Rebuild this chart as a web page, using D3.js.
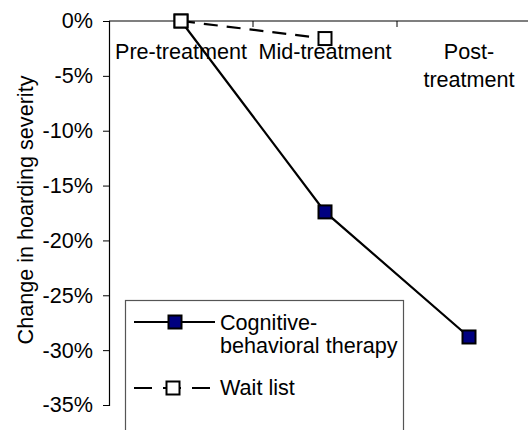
<!DOCTYPE html>
<html>
<head>
<meta charset="utf-8">
<script src="https://cdn.jsdelivr.net/npm/d3@7"></script>
<style>
  body { margin: 0; background: #fff; }
  svg { display: block; font-family: "Liberation Sans", Arial, sans-serif; }
</style>
</head>
<body>
<svg id="chart"></svg>
<script>
// data
const categories = ["Pre-treatment", "Mid-treatment", "Post-treatment"];
const cbtValues = [0, -17.4, -28.8];
const waitListValues = [0, -1.6, null];
const yTicks = [0, -5, -10, -15, -20, -25, -30, -35];
const seriesNames = ["Cognitive-behavioral therapy", "Wait list"];

const W = 528, H = 430;
const margin = { top: 21, left: 109 };
const width = 432;   // plot runs past the right edge like the original
const height = 384;
const fs = "21.6px";

const svg = d3.select("#chart").attr("width", W).attr("height", H);
const g = svg.append("g").attr("transform", `translate(${margin.left},${margin.top})`);

const x = d3.scaleBand().domain(categories).range([0, width]).padding(0);
const y = d3.scaleLinear().domain([0, -35]).range([0, height]);
const cx = d => x(d) + x.bandwidth() / 2;

// y axis
const yAxis = g.append("g")
  .call(d3.axisLeft(y).tickValues(yTicks).tickSize(6).tickPadding(10).tickFormat(d => `${d}%`));
yAxis.select(".domain").attr("stroke", "#000").attr("stroke-width", 1.2);
yAxis.selectAll(".tick line").attr("stroke", "#000");
yAxis.selectAll("text").style("font-size", fs).attr("fill", "#000");

// y axis title
svg.append("text")
  .attr("transform", "rotate(-90)")
  .attr("x", -210)
  .attr("y", 33)
  .attr("text-anchor", "middle")
  .style("font-size", fs)
  .text("Change in hoarding severity");

// top category axis (line at 0%)
g.append("line")
  .attr("x1", 0).attr("x2", width).attr("y1", 0).attr("y2", 0)
  .attr("stroke", "#000").attr("stroke-width", 1.2);
g.selectAll(".cat-tick")
  .data(categories.slice(1))
  .enter().append("line")
  .attr("class", "cat-tick")
  .attr("x1", d => x(d)).attr("x2", d => x(d))
  .attr("y1", 0).attr("y2", 6)
  .attr("stroke", "#000");

const catLabels = g.selectAll(".cat-label")
  .data(categories)
  .enter().append("text")
  .attr("class", "cat-label")
  .attr("x", cx)
  .attr("y", 38)
  .attr("text-anchor", "middle")
  .style("font-size", fs);

// wrap a label after its hyphen if it would run off the page
catLabels.each(function(d) {
  const t = d3.select(this);
  t.text(d);
  const w = this.getComputedTextLength();
  if (margin.left + cx(d) + w / 2 > W && d.includes("-")) {
    const i = d.indexOf("-") + 1;
    t.text(null);
    t.append("tspan").attr("x", cx(d)).attr("dy", 0).text(d.slice(0, i));
    t.append("tspan").attr("x", cx(d)).attr("dy", 28).text(d.slice(i));
  }
});

// lines
const line = d3.line()
  .defined(d => d.v !== null)
  .x(d => cx(d.c))
  .y(d => y(d.v));

const cbt = categories.map((c, i) => ({ c, v: cbtValues[i] }));
const wait = categories.map((c, i) => ({ c, v: waitListValues[i] })).filter(d => d.v !== null);

g.append("path").datum(wait)
  .attr("d", line).attr("fill", "none")
  .attr("stroke", "#000").attr("stroke-width", 2.2)
  .attr("stroke-dasharray", "14,9");

g.append("path").datum(cbt)
  .attr("d", line).attr("fill", "none")
  .attr("stroke", "#000").attr("stroke-width", 2.2);

const ms = 13;
g.selectAll(".cbt-pt").data(cbt).enter().append("rect")
  .attr("x", d => cx(d.c) - ms / 2).attr("y", d => y(d.v) - ms / 2)
  .attr("width", ms).attr("height", ms)
  .attr("fill", "#000080").attr("stroke", "#000").attr("stroke-width", 2);

g.selectAll(".wait-pt").data(wait).enter().append("rect")
  .attr("x", d => cx(d.c) - ms / 2).attr("y", d => y(d.v) - ms / 2)
  .attr("width", ms).attr("height", ms)
  .attr("fill", "#fff").attr("stroke", "#000").attr("stroke-width", 2);

// legend
const lg = svg.append("g").attr("transform", "translate(125,300)");
lg.append("rect")
  .attr("x", 0.5).attr("y", 0.5).attr("width", 278).attr("height", 160)
  .attr("fill", "#fff").attr("stroke", "#555").attr("stroke-width", 1.2);

// CBT entry
lg.append("line").attr("x1", 9).attr("x2", 90).attr("y1", 22).attr("y2", 22)
  .attr("stroke", "#000").attr("stroke-width", 2.2);
lg.append("rect").attr("x", 50 - ms / 2).attr("y", 22 - ms / 2)
  .attr("width", ms).attr("height", ms)
  .attr("fill", "#000080").attr("stroke", "#000").attr("stroke-width", 2);
const t1 = lg.append("text").style("font-size", fs).attr("y", 30);
t1.append("tspan").attr("x", 95).text(seriesNames[0].slice(0, 10));
t1.append("tspan").attr("x", 95).attr("dy", 23).text(seriesNames[0].slice(10));

// wait list entry
lg.append("line").attr("x1", 9).attr("x2", 86).attr("y1", 88).attr("y2", 88)
  .attr("stroke", "#000").attr("stroke-width", 2.2)
  .attr("stroke-dasharray", "18,11");
lg.append("rect").attr("x", 48 - ms / 2).attr("y", 88 - ms / 2)
  .attr("width", ms).attr("height", ms)
  .attr("fill", "#fff").attr("stroke", "#000").attr("stroke-width", 2);
lg.append("text").style("font-size", fs)
  .attr("x", 95).attr("y", 95)
  .text(seriesNames[1]);
</script>
</body>
</html>
